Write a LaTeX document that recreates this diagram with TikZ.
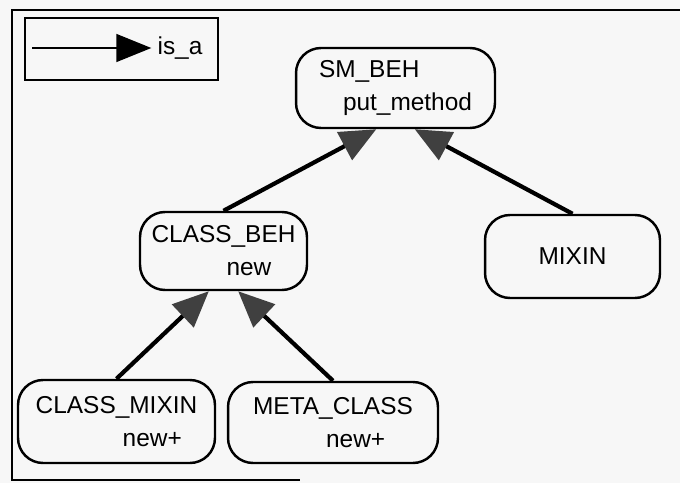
\documentclass[tikz,border=0pt]{standalone}
\usepackage{fontspec}
\setmainfont{Liberation Sans}
\usetikzlibrary{arrows.meta,positioning}

\begin{document}
\begin{tikzpicture}[
                x=0.02cm, y=-0.02cm,
                font=\fontsize{13.9}{18.7}\selectfont,
                frame/.style={line width=1.3pt},
                class/.style={draw,line width=1.4pt,rounded corners=0.5cm,align=left,inner sep=0pt},
                isa/.style={line width=2.4pt,-{Triangle[length=0.72cm,width=0.62cm,color=black!75,fill=black!75]}}
            ]
                \fill[black!3] (0,0) rectangle (680,483);
                \useasboundingbox (0,0) rectangle (680,483);
                \draw[frame] (680,10) -- (12,10) -- (12,480) -- (300,480);

                \node (legend) [draw,frame,minimum width=3.86cm,minimum height=1.24cm] at (121.5,49) {};
                \coordinate (from) at (32,48);
                \node (isalabel) at (180,48) {is\_a};
                \draw[line width=1.7pt,-{Triangle[length=0.7cm,width=0.55cm]}] (from) -- (isalabel);

                \node (smbeh)  [class,minimum width=3.98cm,minimum height=1.6cm]  at (395.5,88)  {SM\_BEH\\\hspace*{0.48cm}put\_method};
                \node (cbeh)   [class,minimum width=3.34cm,minimum height=1.56cm] at (223.5,251) {CLASS\_BEH\\\hspace*{1.5cm}new};
                \node (mixin)  [class,minimum width=3.5cm,minimum height=1.66cm]  at (572.5,256.5) {MIXIN};
                \node (cmixin) [class,minimum width=3.94cm,minimum height=1.66cm] at (116.5,421.5) {CLASS\_MIXIN\\\hspace*{1.74cm}new+};
                \node (meta)   [class,minimum width=4.2cm,minimum height=1.62cm]  at (333,422.5) {META\_CLASS\\\hspace*{1.46cm}new+};

                \draw[isa] (cbeh.north) -- (smbeh.245);
                \draw[isa] (mixin.north) -- (smbeh.295);
                \draw[isa] (cmixin.north) -- (cbeh.250);
                \draw[isa] (meta.north) -- (cbeh.290);
            \end{tikzpicture}
\end{document}
